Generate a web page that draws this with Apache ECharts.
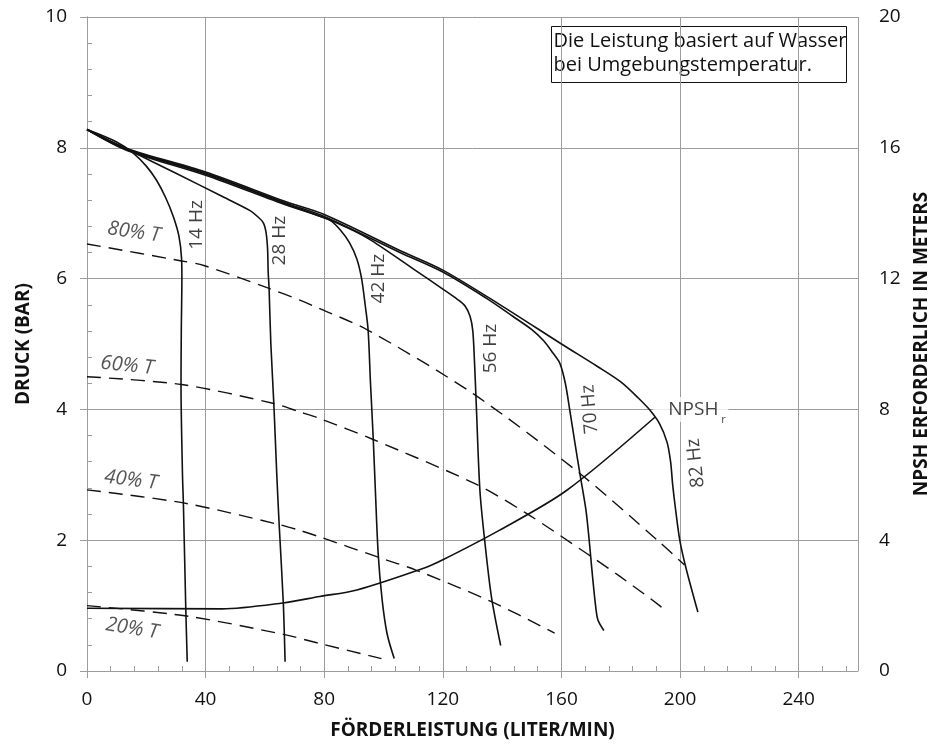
<!DOCTYPE html>
<html>
<head>
<meta charset="utf-8">
<script src="https://cdn.jsdelivr.net/npm/echarts@6/dist/echarts.min.js"></script>
<style>
  html, body { margin: 0; padding: 0; background: #fff; }
  #chart { width: 931px; height: 744px; }
</style>
</head>
<body>
<div id="chart"></div>
<script>
// Pump performance curves: flow (l/min) vs. pressure (bar), NPSHr in metres.

// Pressure curves per drive frequency, [flow, bar]
const hz14 = [[0,8.28],[10,8.09],[15.6,7.92],[20,7.72],[23.5,7.5],[26.5,7.24],[29.1,6.95],[31,6.65],[31.9,6.3],[32,6.0],[31.8,5.2],[31.7,4.4],[32.2,3.0],[32.5,2.57],[33.3,0.98],[33.8,0.14]];
const hz28 = [[0,8.28],[13.5,7.98],[30,7.61],[45,7.27],[55,7.04],[57.5,6.95],[59.5,6.85],[60.4,6.7],[60.9,6.45],[61.1,6.1],[61.4,5.85],[62,5.0],[63,4.09],[64,3.0],[64.8,2.24],[66.2,1.04],[66.8,0.14]];
const hz42 = [[0,8.28],[13.5,7.97],[40,7.6],[67.4,7.14],[78,6.96],[82,6.89],[85.5,6.74],[88.5,6.55],[91,6.3],[92.6,6.0],[93.8,5.6],[94.8,5.21],[95.6,4.4],[96.5,3.58],[97.3,2.7],[98.2,1.79],[99.5,1.1],[101.2,0.57],[103.6,0.19]];
const hz56 = [[0,8.28],[13.5,7.96],[40,7.58],[67.4,7.12],[80,6.93],[90,6.73],[96,6.58],[110,6.15],[120,5.84],[125,5.68],[127.5,5.58],[129.2,5.42],[130.1,5.2],[130.7,4.7],[131.3,4.04],[132.5,2.76],[134.1,2.0],[136.4,1.13],[139.5,0.39]];
const hz70 = [[0,8.28],[13.5,7.98],[40,7.61],[67.4,7.15],[80,6.95],[105.5,6.4],[120,6.1],[135,5.69],[143.7,5.42],[150,5.22],[154,5.05],[157,4.87],[159.5,4.7],[161.3,4.4],[162.8,3.99],[164.5,3.5],[166.2,3.02],[168.4,2.41],[170.6,1.39],[171.5,1.0],[172.3,0.78],[174.3,0.62]];
const hz82 = [[0,8.28],[13.5,7.99],[40,7.63],[67.4,7.17],[80,6.98],[105.5,6.43],[120,6.13],[140,5.58],[160,5.0],[172,4.66],[180,4.42],[186,4.17],[189.8,3.99],[193.1,3.78],[195.6,3.5],[196.8,3.2],[197.5,2.85],[198.4,2.5],[199.9,2.0],[201.9,1.59],[206,0.9]];

// Torque lines (% of max torque), [flow, bar]
const t80 = [[0,6.53],[31.9,6.27],[39.4,6.2],[61.4,5.85],[71.8,5.67],[78.5,5.54],[94.8,5.21],[130.2,4.24],[166.2,3.02],[193.1,1.97],[201.5,1.62]];
const t60 = [[0,4.5],[31.9,4.38],[63,4.09],[71.8,3.96],[78.5,3.86],[96.5,3.54],[131,2.86],[148.2,2.41],[168.4,1.8],[179.6,1.45],[193.1,1.0],[194.8,0.92]];
const t40 = [[0,2.77],[32.5,2.57],[64.8,2.24],[71.8,2.15],[78.5,2.05],[98.2,1.74],[111.1,1.54],[136.4,1.06],[157.7,0.58]];
const t20 = [[0,1.0],[33.6,0.84],[66.2,0.56],[78.5,0.42],[99.3,0.19]];

// Required NPSH, [flow, metres]
const npshr = [[0,1.92],[45.5,1.9],[66,2.08],[78.5,2.28],[91,2.48],[114,3.16],[120,3.4],[139,4.3],[161.7,5.52],[191.5,7.76]];

// Curve captions
const hzNames = ['14 Hz', '28 Hz', '42 Hz', '56 Hz', '70 Hz', '82 Hz'];
const hzLabelAt = [[37.1,6.82],[65.0,6.58],[98.4,6.0],[136.2,4.93],[169.6,4.0],[205.3,3.18]];
const torqueNames = ['80% T', '60% T', '40% T', '20% T'];
const torqueLabelAt = [[15.8,6.71],[13.5,4.67],[14.8,2.92],[15.2,0.65]];
const npshLabelAt = [190.8, 4.0];

// Axis ticks
const flowTicks = { min: 0, max: 260, step: 40, minorStep: 8 };
const barTicks = { min: 0, max: 10, step: 2, minorStep: 0.4 };
const meterTicks = { min: 0, max: 20, step: 4 };

const noteLines = ['Die Leistung basiert auf Wasser', 'bei Umgebungstemperatur.'];

const FONT = '"Open Sans", "Noto Sans", sans-serif';
const INK = '#111';
const GRID = '#9c9c9c';

const chart = echarts.init(document.getElementById('chart'), null, { renderer: 'canvas' });

const solid = (data, yIdx) => ({
  type: 'line', data, xAxisIndex: 0, yAxisIndex: yIdx || 0,
  showSymbol: false, symbol: 'none', smooth: 0.3, z: 3, silent: true,
  lineStyle: { color: INK, width: 1.6 }
});
const dashed = (data) => ({
  type: 'line', data, xAxisIndex: 0, yAxisIndex: 0,
  showSymbol: false, symbol: 'none', smooth: 0.3, z: 3, silent: true,
  lineStyle: { color: INK, width: 1.4, type: [14, 8] }
});

const labelSeries = (names, at, rotations, extra) => ({
  type: 'scatter', xAxisIndex: 0, yAxisIndex: 0, symbolSize: 1, z: 4, silent: true,
  itemStyle: { color: 'transparent' },
  data: names.map((n, i) => ({ name: n, value: at[i], label: { rotate: rotations[i] } })),
  label: Object.assign({
    show: true, position: 'inside', formatter: '{b}',
    fontFamily: FONT, fontSize: 19, color: INK
  }, extra || {})
});

const option = {
  animation: false,
  backgroundColor: '#fff',
  grid: { left: 87, right: 73, top: 17, bottom: 73, containLabel: false, outerBoundsMode: 'none' },
  xAxis: [
    {
      type: 'value', position: 'bottom',
      min: flowTicks.min, max: flowTicks.max, interval: flowTicks.step,
      name: 'FÖRDERLEISTUNG (LITER/MIN)', nameLocation: 'middle', nameGap: 50,
      nameTextStyle: { fontFamily: FONT, fontWeight: 'bold', fontSize: 19, color: INK },
      axisLine: { show: true, lineStyle: { color: GRID, width: 1 } },
      axisTick: { show: true, length: 7, lineStyle: { color: GRID } },
      axisLabel: { fontFamily: FONT, fontSize: 19, color: INK, margin: 19, showMaxLabel: false },
      splitLine: { show: true, lineStyle: { color: GRID, width: 1 } }
    },
    {
      // fine inward ticks along the flow axis
      type: 'value', position: 'bottom',
      min: flowTicks.min, max: flowTicks.max, interval: flowTicks.minorStep,
      axisLine: { show: false },
      axisTick: { show: true, inside: true, length: 5, lineStyle: { color: GRID } },
      axisLabel: { show: false },
      splitLine: { show: false }
    }
  ],
  yAxis: [
    {
      type: 'value', position: 'left',
      min: barTicks.min, max: barTicks.max, interval: barTicks.step,
      name: 'DRUCK (BAR)', nameLocation: 'middle', nameGap: 54, nameRotate: 90,
      nameTextStyle: { fontFamily: FONT, fontWeight: 'bold', fontSize: 19, color: INK },
      axisLine: { show: true, lineStyle: { color: GRID, width: 1 } },
      axisTick: { show: true, length: 7, lineStyle: { color: GRID } },
      axisLabel: { fontFamily: FONT, fontSize: 19, color: INK, margin: 20 },
      splitLine: { show: true, lineStyle: { color: GRID, width: 1 } }
    },
    {
      type: 'value', position: 'right',
      min: meterTicks.min, max: meterTicks.max, interval: meterTicks.step,
      name: 'NPSH ERFORDERLICH IN METERS', nameLocation: 'middle', nameGap: 50, nameRotate: 90,
      nameTextStyle: { fontFamily: FONT, fontWeight: 'bold', fontSize: 19, color: INK },
      axisLine: { show: true, lineStyle: { color: GRID, width: 1 } },
      axisTick: { show: true, length: 7, lineStyle: { color: GRID } },
      axisLabel: { fontFamily: FONT, fontSize: 19, color: INK, margin: 21 },
      splitLine: { show: false }
    },
    {
      // fine inward ticks along the pressure axis
      type: 'value', position: 'left',
      min: barTicks.min, max: barTicks.max, interval: barTicks.minorStep,
      axisLine: { show: false },
      axisTick: { show: true, inside: true, length: 5, lineStyle: { color: GRID } },
      axisLabel: { show: false },
      splitLine: { show: false }
    }
  ],
  graphic: [
    {
      type: 'group', x: 551.5, y: 26.5, z: 10,
      children: [
        { type: 'rect', shape: { x: 0, y: 0, width: 295, height: 56 },
          style: { fill: '#fff', stroke: INK, lineWidth: 1 } },
        { type: 'text', x: 2, y: 3,
          style: { text: noteLines.join('\n'), font: '20px ' + FONT, fill: INK, lineHeight: 24 } }
      ]
    }
  ],
  series: [
    solid(hz14), solid(hz28), solid(hz42), solid(hz56), solid(hz70), solid(hz82),
    dashed(t80), dashed(t60), dashed(t40), dashed(t20),
    solid(npshr, 1),
    labelSeries(hzNames, hzLabelAt, [90, 90, 90, 90, 95, 96]),
    labelSeries(torqueNames, torqueLabelAt, [-8, -6, -7, -9], { fontStyle: 'italic', fontSize: 20, color: '#2a2a2a' }),
    {
      // NPSHr caption sits on a white patch over the grid, below the curves
      type: 'scatter', xAxisIndex: 0, yAxisIndex: 0, symbolSize: 1, z: 1, silent: true,
      itemStyle: { color: 'transparent' },
      data: [
        { name: 'NPSH', value: npshLabelAt,
          label: { position: 'right', distance: 0, backgroundColor: '#fff', padding: [3, 10, 3, 15], fontSize: 19 } },
        { name: 'r', value: npshLabelAt,
          label: { position: 'right', distance: 0, offset: [68, 10], fontSize: 11 } }
      ],
      label: { show: true, formatter: '{b}', fontFamily: FONT, color: INK }
    }
  ]
};

chart.setOption(option);
</script>
</body>
</html>
